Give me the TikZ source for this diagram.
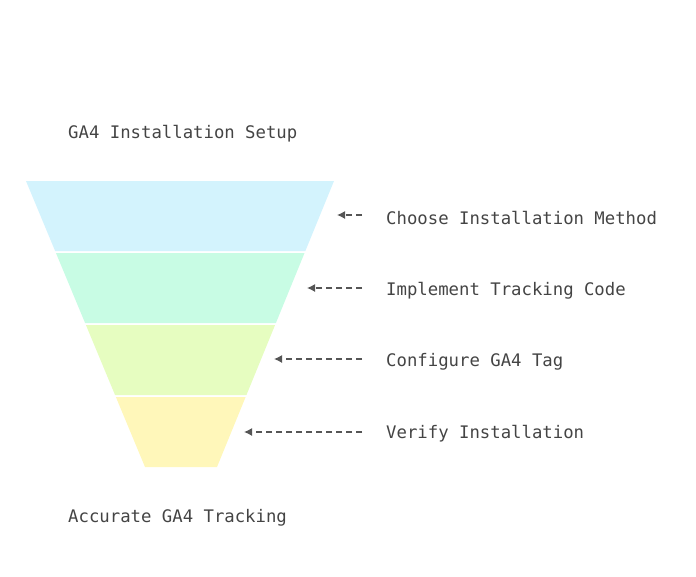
\documentclass[tikz,border=0pt]{standalone}
\usepackage{fontspec}
\setmainfont{DejaVu Sans Mono}
\usetikzlibrary{arrows.meta}
\definecolor{c1}{HTML}{D3F3FD}
\definecolor{c2}{HTML}{C8FCE4}
\definecolor{c3}{HTML}{E6FDC0}
\definecolor{c4}{HTML}{FFF7BA}
\definecolor{tx}{HTML}{444444}
\definecolor{ar}{HTML}{555555}
\begin{document}
\begin{tikzpicture}[x=1pt,y=-1pt,
  lbl/.style={font=\fontsize{17.3}{20}\selectfont,text=tx,anchor=west,inner sep=0},
  conn/.style={draw=ar,dashed,dash pattern=on 6pt off 4pt,line width=1.3pt,-{Latex[length=8pt,width=8pt]}}]
\useasboundingbox (0,0) rectangle (696,576);
\foreach \ya/\yb/\c [count=\i] in {181/251/c1,253/323/c2,325/395/c3,397/467/c4}{
  \fill[\c] ({26+0.4161*(\ya-181)},\ya) -- ({334-0.4091*(\ya-181)},\ya) -- ({334-0.4091*(\yb-181)},\yb) -- ({26+0.4161*(\yb-181)},\yb) -- cycle;
}
\node[lbl] (top) at (68,134) {GA4 Installation Setup};
\node[lbl] (bot) at (68,518) {Accurate GA4 Tracking};
\node[lbl] (t1) at (386,218) {Choose Installation Method};
\node[lbl] (t2) at (386,291) {Implement Tracking Code};
\node[lbl] (t3) at (386,362) {Configure GA4 Tag};
\node[lbl] (t4) at (386,434) {Verify Installation};
\coordinate (a1) at (337,215);
\coordinate (a2) at (307,288);
\coordinate (a3) at (274,359);
\coordinate (a4) at (244,432);
\foreach \i in {1,...,4}{
  \draw[conn] ([xshift=-24pt]t\i.west |- a\i) -- (a\i);
}
\end{tikzpicture}
\end{document}
